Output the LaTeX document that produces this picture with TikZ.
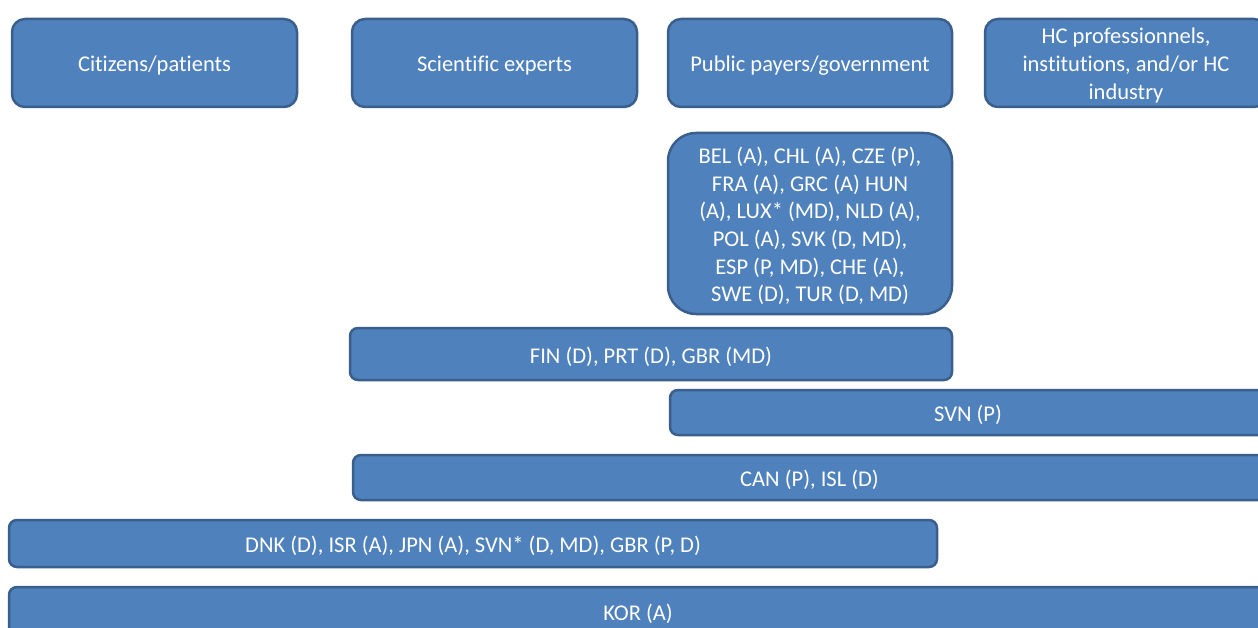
\documentclass[tikz,border=0pt]{standalone}
\usepackage{fontspec}
\setmainfont{Carlito}[Ligatures=NoCommon]
\definecolor{boxfill}{HTML}{4F81BD}
\definecolor{boxline}{HTML}{3A5F8C}
\begin{document}
\begin{tikzpicture}[x=1pt,y=-1pt,
  box/.style={draw=boxline, fill=boxfill, line width=2.5pt, inner sep=0pt},
  head/.style={box, rounded corners=13pt, minimum width=285pt, minimum height=88pt},
  bar/.style={box, rounded corners=8pt},
  txt/.style={text=white, inner sep=0pt, align=center,
    font=\fontsize{22.5}{27.6}\selectfont}]
\useasboundingbox (0,0) rectangle (1258,628);
\clip (0,0) rectangle (1258,628);
\fill[white] (0,0) rectangle (1258,628);
\node[head] (cit) at (154.5,63) {};
\node[head] (sci) at (494.5,63) {};
\node[head, minimum width=284pt] (pub) at (810,63) {};
\node[head, minimum width=282pt] (hc) at (1126,63) {};
\node[box, rounded corners=28pt, minimum width=284pt, minimum height=181pt] (big) at (810,223.5) {};
\node[bar, minimum width=602pt, minimum height=52pt] (fin) at (651,354) {};
\node[bar, minimum width=596pt, minimum height=45pt] (svn) at (968,412.5) {};
\node[bar, minimum width=913pt, minimum height=45pt] (can) at (809.5,477.5) {};
\node[bar, minimum width=928pt, minimum height=47pt] (dnk) at (473,543.5) {};
\node[bar, minimum width=1258pt, minimum height=48pt] (kor) at (638,611) {};
\node[txt] (citt) at ([yshift=-2.5pt]cit.center) {Citizens/patients};
\node[txt] (scit) at ([yshift=-2.5pt]sci.center) {Scientific experts};
\node[txt] (pubt) at ([yshift=-2.5pt]pub.center) {Public payers/government};
\node[txt] (hct) at ([yshift=-2.5pt]hc.center) {HC professionnels,\\institutions, and/or HC\\industry};
\node[txt] (bigt) at ([yshift=-2.5pt]big.center) {BEL (A), CHL (A), CZE (P),\\FRA (A), GRC (A) HUN\\(A), LUX* (MD), NLD (A),\\POL (A), SVK (D, MD),\\ESP (P, MD), CHE (A),\\SWE (D), TUR (D, MD)};
\node[txt] (fint) at ([yshift=-2.5pt]fin.center) {FIN (D), PRT (D), GBR (MD)};
\node[txt] (svnt) at ([yshift=-2.5pt]svn.center) {SVN (P)};
\node[txt] (cant) at ([yshift=-2.5pt]can.center) {CAN (P), ISL (D)};
\node[txt] (dnkt) at ([yshift=-2.5pt]dnk.center) {DNK (D), ISR (A), JPN (A), SVN* (D, MD), GBR (P, D)};
\node[txt] (kort) at ([yshift=-2.5pt]kor.center) {KOR (A)};
\end{tikzpicture}
\end{document}
